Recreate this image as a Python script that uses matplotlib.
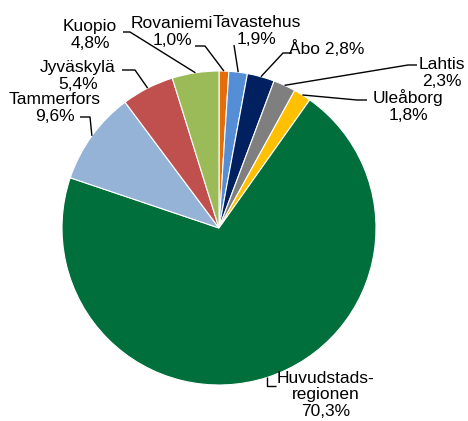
import matplotlib.pyplot as plt
import numpy as np

# Andelar per region (%), medurs från klockan 12
regioner = ['Rovaniemi', 'Tavastehus', 'Åbo', 'Lahtis', 'Uleåborg',
            'Huvudstads-\nregionen', 'Tammerfors', 'Jyväskylä', 'Kuopio']
andelar = [1.0, 1.9, 2.8, 2.3, 1.8, 70.3, 9.6, 5.4, 4.8]
etiketter = ['Rovaniemi\n1,0%', 'Tavastehus\n1,9%', 'Åbo 2,8%', 'Lahtis\n2,3%',
             'Uleåborg\n1,8%', 'Huvudstads-\nregionen\n70,3%', 'Tammerfors\n9,6%',
             'Jyväskylä\n5,4%', 'Kuopio\n4,8%']
farger = ['#E46C0A', '#558ED5', '#002060', '#7F7F7F', '#FFC000',
          '#006F3C', '#95B3D7', '#C0504D', '#9BBB59']

plt.rcParams['font.family'] = ['Liberation Sans', 'DejaVu Sans']

fig = plt.figure(figsize=(4.68, 4.21), dpi=100)
ax = fig.add_axes([0, 0, 1, 1])

cx, cy, r = 219, 228, 157
# y-axeln vänd (pixelkoordinater), så startangle=-90 + moturs = medurs på bilden
wedges, _ = ax.pie(andelar, colors=farger, startangle=-90, counterclock=True,
                   center=(cx, cy), radius=r,
                   wedgeprops=dict(edgecolor='white', linewidth=0.8))
ax.set_xlim(0, 468)
ax.set_ylim(421, 0)
ax.set_aspect('equal')
ax.axis('off')

# etikettplacering: (textens mitt x, y, armbåge-punkter)
layout = [
    ((172, 32, 'center'), [(195, 46), (205, 46)]),
    ((257, 31, 'center'), [(234, 45)]),
    ((327, 49, 'center'), [(292, 53), (283, 53)]),
    ((442, 73, 'center'), [(417, 65), (408, 65)]),
    ((408, 106, 'center'), [(367, 100), (357, 100)]),
    ((326, 395, 'center'), [(276, 386), (267, 386)]),
    ((55, 108, 'center'), [(80, 117), (90, 117)]),
    ((78, 76, 'center'), [(122, 70), (135, 70)]),
    ((90, 35, 'center'), [(123, 32), (130, 32)]),
]

for w, txt, ((tx, ty, ha), pts) in zip(wedges, etiketter, layout):
    mid = np.deg2rad((w.theta1 + w.theta2) / 2)
    ex, ey = cx + r * np.cos(mid), cy + r * np.sin(mid)
    if txt.startswith('Huvud'):
        ex = pts[1][0]
    xs = [p[0] for p in pts] + [ex]
    ys = [p[1] for p in pts] + [ey]
    ax.plot(xs, ys, color='black', linewidth=1, solid_capstyle='butt')
    ax.text(tx, ty, txt, ha=ha, va='center', fontsize=12.5,
            linespacing=1.15, color='black')

fig.savefig('out.png', dpi=100)
